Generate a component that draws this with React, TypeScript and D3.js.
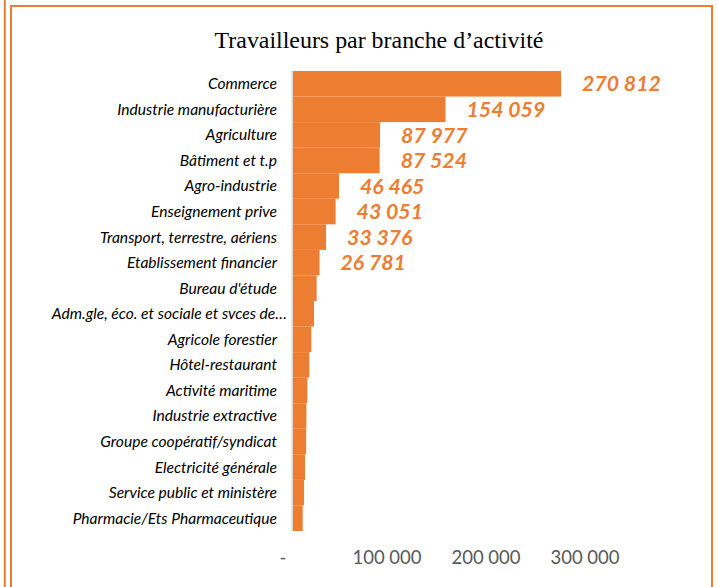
import React from "react";
import * as d3 from "d3";

const categories: string[] = [
  "Commerce",
  "Industrie manufacturière",
  "Agriculture",
  "Bâtiment et t.p",
  "Agro-industrie",
  "Enseignement prive",
  "Transport, terrestre, aériens",
  "Etablissement financier",
  "Bureau d'étude",
  "Adm.gle, éco. et sociale et svces de…",
  "Agricole forestier",
  "Hôtel-restaurant",
  "Activité maritime",
  "Industrie extractive",
  "Groupe coopératif/syndicat",
  "Electricité générale",
  "Service public et ministère",
  "Pharmacie/Ets Pharmaceutique",
];

const values: number[] = [
  270812, 154059, 87977, 87524, 46465, 43051, 33376, 26781, 23900, 21200,
  18500, 16500, 14500, 13500, 13300, 12200, 11200, 9800,
];

// only the top 8 bars carry a label
const labelled: boolean[] = values.map((_, i) => i < 8);

const tickValues: number[] = [0, 100000, 200000, 300000];

const W = 718;
const H = 587;
const ORANGE = "#ED7D31";

const fmt = (v: number) =>
  v === 0 ? "-" : d3.format(",")(v).replace(/,/g, " ");

export default function App() {
  const x = d3.scaleLinear().domain([0, 300000]).range([293, 590]);
  const y = d3
    .scaleBand<string>()
    .domain(categories)
    .range([71, 531])
    .paddingInner(0)
    .paddingOuter(0);

  return (
    <div style={{ position: "absolute", left: 0, top: 0 }}>
      <svg width={W} height={H} style={{ display: "block" }}>
        <rect x={0} y={0} width={W} height={H} fill="#fff" />
        {/* frame lines */}
        <line x1={4.8} y1={0} x2={4.8} y2={H} stroke={ORANGE} strokeWidth={2} />
        <path
          d={`M11,${H + 5} L11,6 L712,6 L712,${H + 5}`}
          fill="none"
          stroke={ORANGE}
          strokeWidth={2}
        />
        {/* title */}
        <text
          x={379}
          y={48}
          textAnchor="middle"
          fontFamily="'Liberation Serif', 'DejaVu Serif', serif"
          fontSize={23.9}
          fill="#000"
        >
          Travailleurs par branche d’activité
        </text>
        {/* bars */}
        {categories.map((c, i) => (
          <rect
            key={c}
            x={x(0)}
            y={y(c)!}
            width={x(values[i]) - x(0)}
            height={y.bandwidth()}
            fill={ORANGE}
          />
        ))}
        {/* axis line */}
        <line
          x1={292.2}
          x2={292.2}
          y1={71}
          y2={531}
          stroke="#D9D9D9"
          strokeWidth={1.5}
        />
        {/* category labels */}
        {categories.map((c) => (
          <text
            key={c}
            x={c.endsWith("…") ? 287 : 277}
            y={y(c)! + y.bandwidth() / 2}
            dy="0.35em"
            textAnchor="end"
            fontFamily="Lato, 'Open Sans', sans-serif"
            fontStyle="italic"
            fontSize={15.6}
            fill="#000"
          >
            {c}
          </text>
        ))}
        {/* value labels */}
        {categories.map((c, i) =>
          labelled[i] ? (
            <text
              key={c}
              x={x(values[i]) + 21}
              y={y(c)! + y.bandwidth() / 2}
              dy="0.36em"
              textAnchor="start"
              fontFamily="Lato, 'Open Sans', sans-serif"
              fontStyle="italic"
              fontWeight="bold"
              fontSize={21.3}
              fill={ORANGE}
            >
              {fmt(values[i])}
            </text>
          ) : null
        )}
        {/* x tick labels */}
        {tickValues.map((t) => (
          <text
            key={t}
            x={x(t) - (t === 0 ? 10 : 5)}
            y={558}
            dy="0.35em"
            textAnchor="middle"
            fontFamily="Lato, 'Open Sans', sans-serif"
            fontSize={18.5}
            fill="#595959"
          >
            {fmt(t)}
          </text>
        ))}
      </svg>
    </div>
  );
}
